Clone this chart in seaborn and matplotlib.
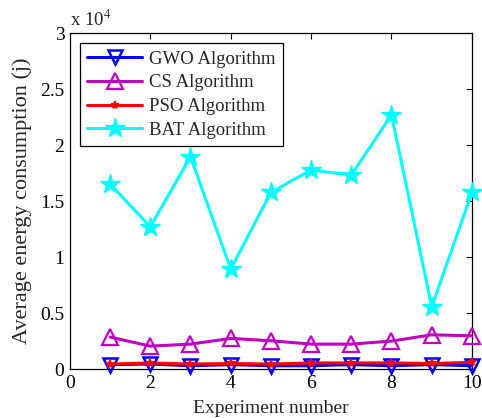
import numpy as np
import pandas as pd
import matplotlib
matplotlib.use("Agg")
import matplotlib.pyplot as plt
import seaborn as sns

experiments = [1, 2, 3, 4, 5, 6, 7, 8, 9, 10]
gwo = [400, 450, 300, 400, 300, 300, 400, 300, 400, 300]
cs = [2860, 2050, 2230, 2740, 2530, 2230, 2230, 2500, 3060, 2970]
pso = [450, 550, 450, 500, 450, 550, 550, 550, 500, 600]
bat = [16520, 12710, 18960, 8930, 15780, 17770, 17320, 22680, 5560, 15780]

series_names = ["GWO Algorithm", "CS Algorithm", "PSO Algorithm", "BAT Algorithm"]
series_values = [gwo, cs, pso, bat]

y_ticks = [0, 5000, 10000, 15000, 20000, 25000, 30000]
y_tick_labels = ["0", "0.5", "1", "1.5", "2", "2.5", "3"]
x_ticks = [0, 2, 4, 6, 8, 10]

sns.set_theme(style="white")
plt.rcParams["font.family"] = ["Liberation Serif", "DejaVu Serif"]
plt.rcParams["mathtext.fontset"] = "stix"

fig = plt.figure(figsize=(4.82, 4.18), dpi=100)
ax = fig.add_axes([0.145, 0.117, 0.834, 0.804])

styles = {
    "GWO Algorithm": dict(color="#0000ff", marker="v", markersize=10, markerfacecolor="none",
                          markeredgewidth=1.8, markeredgecolor="#0000ff"),
    "CS Algorithm": dict(color="#bf00bf", marker="^", markersize=11, markerfacecolor="none",
                         markeredgewidth=1.6, markeredgecolor="#bf00bf"),
    "PSO Algorithm": dict(color="#ff0000", marker="*", markersize=6, markerfacecolor="#ff0000",
                          markeredgewidth=1.2, markeredgecolor="#ff0000"),
    "BAT Algorithm": dict(color="#00ffff", marker="*", markersize=15, markerfacecolor="#00ffff",
                          markeredgewidth=1.0, markeredgecolor="#00ffff"),
}

for name, vals in zip(series_names, series_values):
    df = pd.DataFrame({"Experiment": experiments, "Energy": vals})
    sns.lineplot(data=df, x="Experiment", y="Energy", ax=ax, label=name,
                 linewidth=2.2, clip_on=False, zorder=3, **styles[name])

ax.set_xlim(0, 10)
ax.set_ylim(0, 30000)
ax.set_xticks(x_ticks)
ax.set_xticklabels([str(t) for t in x_ticks])
ax.set_yticks(y_ticks)
ax.set_yticklabels(y_tick_labels)
ax.tick_params(direction="in", length=4, width=0.8, top=True, right=True,
               labelsize=14, colors="black", pad=4)
for spine in ax.spines.values():
    spine.set_color("black")
    spine.set_linewidth(0.9)

ax.set_xlabel("Experiment number", fontsize=14, labelpad=6)
ax.set_ylabel("Average energy consumption (j)", fontsize=16, labelpad=6)
ax.text(0.0, 1.01, r"x 10$^4$", transform=ax.transAxes, fontsize=13.5,
        ha="left", va="bottom")

leg = ax.legend(loc="upper left", fontsize=13.5, frameon=True, fancybox=False,
                edgecolor="black", framealpha=1, borderpad=0.4, labelspacing=0.35,
                handlelength=2.9, handletextpad=0.4, numpoints=1,
                bbox_to_anchor=(0.025, 0.97), borderaxespad=0)
leg.get_frame().set_linewidth(0.9)

fig.savefig("out.png", dpi=100)
